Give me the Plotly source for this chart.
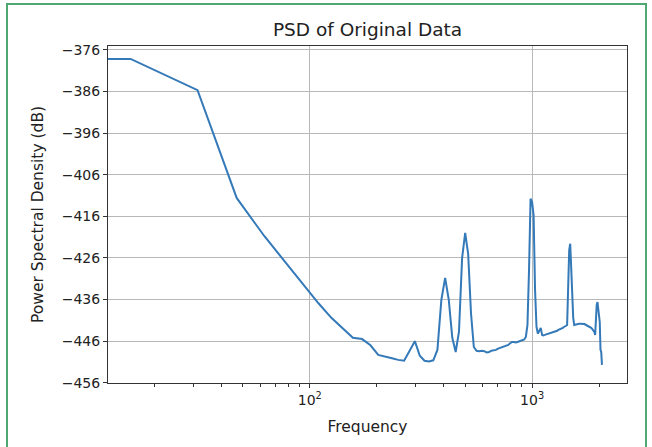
import numpy as np
import plotly.graph_objects as go

# Frequency bins (Hz): k * 15.625, k = 0..132
bin_width = 15.625
n_bins = 133

# PSD values (dB), one per bin
psd_db = [
    -378.2, -378.2, -385.7, -411.6, -420.8, -427.3, -432.7, -436.9, -440.4, -443.0,   # 0-9
    -445.2, -445.5, -447.0, -449.3, -449.8, -450.1, -450.5, -450.7, -448.3, -446.0,   # 10-19
    -449.5, -450.7, -450.9, -450.6, -448.1, -436.1, -430.8, -436.1, -445.2, -448.6,   # 20-29
    -443.8, -426.0, -420.0, -425.0, -439.4, -447.4, -448.3, -448.4, -448.3, -448.4,   # 30-39
    -448.7, -448.6, -448.3, -448.2, -448.1, -447.8, -447.6, -447.4, -447.2, -447.1,   # 40-49
    -446.9, -446.5, -446.2, -446.2, -446.3, -446.2, -446.0, -445.9, -445.8, -445.6,   # 50-59
    -445.0, -442.1, -428.9, -411.8, -412.6, -415.7, -433.7, -442.6, -444.2, -443.3,   # 60-69
    -442.8, -444.5, -444.6, -444.5, -444.4, -444.3, -444.3, -444.1, -444.0, -443.9,   # 70-79
    -443.8, -443.7, -443.6, -443.5, -443.3, -443.2, -443.1, -443.0, -442.8, -442.6,   # 80-89
    -442.5, -442.3, -442.1, -433.7, -424.1, -422.6, -428.9, -433.7, -440.4, -442.1,   # 90-99
    -442.0, -442.0, -441.9, -441.9, -441.8, -441.8, -441.8, -441.8, -441.8, -441.9,   # 100-109
    -441.9, -442.0, -442.1, -442.2, -442.3, -442.4, -442.5, -442.6, -442.8, -443.0,   # 110-119
    -443.2, -443.5, -443.8, -444.5, -440.0, -437.3, -436.6, -438.0, -440.4, -441.4,   # 120-129
    -448.1, -448.6, -451.7,                                                           # 130-132
]

freqs = np.arange(n_bins) * bin_width
# DC bin cannot sit on a log axis: clip it far to the left like matplotlib does
plot_freqs = np.where(freqs > 0, freqs, 1.0)

y_tick_vals = [-376, -386, -396, -406, -416, -426, -436, -446, -456]
y_tick_text = ["\u2212" + str(-v) for v in y_tick_vals]
x_tick_vals = [100, 1000]
x_tick_text = ["10<sup>2</sup>", "10<sup>3</sup>"]
x_minor_vals = [20, 30, 40, 50, 60, 70, 80, 90, 200, 300, 400, 500, 600, 700, 800, 900, 2000]

W, H = 652, 447
L, R, T, B = 108, 25, 46, 64

fig = go.Figure()
fig.add_trace(go.Scatter(
    x=plot_freqs, y=psd_db, mode="lines",
    line=dict(color="#3479b8", width=2),
    showlegend=False,
))

font = "DejaVu Sans, Arial, sans-serif"
axis_common = dict(
    showline=True, linecolor="#333333", linewidth=1, mirror=True,
    ticks="outside", ticklen=4, tickcolor="#333333", tickwidth=1,
    showgrid=True, gridcolor="#b8b8b8", gridwidth=1,
    zeroline=False,
    tickfont=dict(family=font, size=14, color="#222222"),
)

fig.update_layout(
    width=W, height=H,
    margin=dict(l=L, r=R, t=T, b=B, pad=0),
    paper_bgcolor="white", plot_bgcolor="white",
    title=dict(text="PSD of Original Data", x=(L + (W - R - L) / 2) / W, xanchor="center",
               y=1 - 30 / H, yanchor="middle",
               font=dict(family=font, size=18.5, color="#222222")),
    xaxis=dict(
        type="log", range=[1.092, 3.427],
        tickmode="array", tickvals=x_tick_vals, ticktext=x_tick_text,
        minor=dict(tickmode="array", tickvals=x_minor_vals, ticks="outside",
                   ticklen=2.5, tickcolor="#333333", showgrid=False),
        title=dict(text="Frequency", font=dict(family=font, size=15.5, color="#222222"), standoff=14),
        **axis_common,
    ),
    yaxis=dict(
        range=[-456.05, -375.1],
        tickmode="array", tickvals=y_tick_vals, ticktext=y_tick_text,
        title=dict(text="Power Spectral Density (dB)", font=dict(family=font, size=15.5, color="#222222"), standoff=14),
        **axis_common,
    ),
    shapes=[
        dict(type="rect", xref="paper", yref="paper",
             x0=(7 - L) / (W - L - R), x1=(646 - L) / (W - L - R),
             y0=(H - B - 460) / (H - T - B), y1=(H - B - 4) / (H - T - B),
             line=dict(color="#4fa872", width=2), fillcolor="rgba(0,0,0,0)", layer="above"),
    ],
)

fig.write_html("out.html")
